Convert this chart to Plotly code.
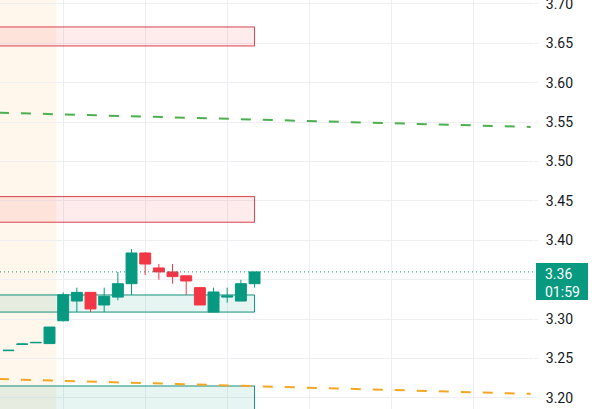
import plotly.graph_objects as go

# ---- data ----
idx = list(range(19))
opens  = [3.260, 3.268, 3.270, 3.269, 3.298, 3.323, 3.334, 3.318, 3.328, 3.345, 3.384, 3.365, 3.360, 3.355, 3.340, 3.309, 3.328, 3.323, 3.345]
highs  = [3.2605, 3.2685, 3.2705, 3.290, 3.334, 3.340, 3.334, 3.340, 3.360, 3.389, 3.385, 3.370, 3.370, 3.355, 3.340, 3.340, 3.340, 3.350, 3.360]
lows   = [3.260, 3.268, 3.270, 3.269, 3.297, 3.309, 3.309, 3.309, 3.324, 3.331, 3.356, 3.350, 3.345, 3.331, 3.318, 3.309, 3.321, 3.323, 3.340]
closes = [3.2605, 3.2685, 3.2705, 3.290, 3.331, 3.334, 3.313, 3.329, 3.345, 3.384, 3.370, 3.360, 3.354, 3.3485, 3.318, 3.3345, 3.3295, 3.345, 3.360]

# supply / demand zones: (top, bottom, kind)
zone_tops    = [3.6708, 3.4555, 3.3307, 3.2152]
zone_bottoms = [3.6467, 3.4230, 3.3090, 3.1700]
zone_kinds   = ["supply", "supply", "demand", "demand"]
zone_start = -1
zone_end = 18

# trend lines: x endpoints and prices
green_x = [-0.7, 38.2]
green_y = [3.5620, 3.5439]
orange_x = [-0.7, 38.2]
orange_y = [3.2240, 3.2052]

# session highlight band
band_x = [-1, 3.5]

last_price_text = "3.36"
countdown_text = "01:59"

y_ticks = [3.20, 3.25, 3.30, 3.35, 3.40, 3.45, 3.50, 3.55, 3.60, 3.65, 3.70]
y_tick_labels = ["3.20", "3.25", "3.30", "", "3.40", "3.45", "3.50", "3.55", "3.60", "3.65", "3.70"]

# ---- styles ----
UP = "#089981"
DOWN = "#F23645"
GRID = "#EEEFF2"
TXT = "#131722"
FONT = "Roboto"

fig = go.Figure()

fig.add_trace(go.Candlestick(
    x=idx, open=opens, high=highs, low=lows, close=closes,
    increasing=dict(line=dict(color=UP, width=1), fillcolor=UP),
    decreasing=dict(line=dict(color=DOWN, width=1), fillcolor=DOWN),
    whiskerwidth=0, showlegend=False, hoverinfo="skip",
))

fig.add_trace(go.Scatter(x=green_x, y=green_y, mode="lines",
                         line=dict(color="#4CAF50", width=2, dash="10px,12px"),
                         showlegend=False, hoverinfo="skip"))
fig.add_trace(go.Scatter(x=orange_x, y=orange_y, mode="lines",
                         line=dict(color="#F5A623", width=2, dash="10px,12px"),
                         showlegend=False, hoverinfo="skip"))

shapes = []
shapes.append(dict(type="rect", xref="x", yref="paper", x0=band_x[0], x1=band_x[1], y0=0, y1=1,
                   fillcolor="rgba(255,152,0,0.08)", line=dict(width=0), layer="below"))
for top, bot, kind in zip(zone_tops, zone_bottoms, zone_kinds):
    if kind == "supply":
        fc, lc = "rgba(242,54,69,0.10)", "#D9404F"
    else:
        fc, lc = "rgba(8,153,129,0.10)", "#138F7B"
    shapes.append(dict(type="rect", xref="x", yref="y", x0=zone_start, x1=zone_end, y0=bot, y1=top,
                       fillcolor=fc, line=dict(color=lc, width=1), layer="between"))

last_close = closes[-1]
shapes.append(dict(type="line", xref="paper", yref="y", x0=0, x1=1, y0=last_close, y1=last_close,
                   line=dict(color=UP, width=1, dash="1px,3px"), layer="above"))
shapes.append(dict(type="rect", xref="paper", yref="y", ysizemode="pixel", yanchor=last_close,
                   x0=1 + 3 / 533, x1=1 + 55 / 533, y0=-28, y1=9,
                   fillcolor=UP, line=dict(width=0), layer="above"))

fig.update_layout(
    width=592, height=409,
    margin=dict(l=0, r=59, t=0, b=0, autoexpand=False),
    plot_bgcolor="white", paper_bgcolor="white",
    boxgap=0.2, boxgroupgap=0,
    shapes=shapes,
    font=dict(family=FONT, size=14, color=TXT),
    xaxis=dict(range=[-0.622, 38.37], showticklabels=False, showgrid=True, gridcolor=GRID,
               tick0=4, dtick=6, zeroline=False, rangeslider=dict(visible=False), fixedrange=True,
               automargin=False),
    yaxis=dict(side="right", range=[3.186, 3.705], tickvals=y_ticks, ticktext=y_tick_labels,
               showgrid=True, gridcolor=GRID, zeroline=False, ticks="outside", ticklen=4,
               tickcolor=GRID, ticklabelstandoff=5, automargin=False, ticklabeloverflow="allow",
               tickfont=dict(family=FONT, size=14, color=TXT)),
    annotations=[dict(xref="paper", yref="y", x=1, y=last_close, xanchor="left", yanchor="top",
                      xshift=10, yshift=8, align="left", showarrow=False,
                      text=last_price_text + "<br>" + countdown_text,
                      font=dict(family=FONT, size=14, color="white"))],
)

fig.write_html("out.html", config={"displayModeBar": False},
               post_script="document.body.style.margin='0';document.body.style.overflow='hidden';")
